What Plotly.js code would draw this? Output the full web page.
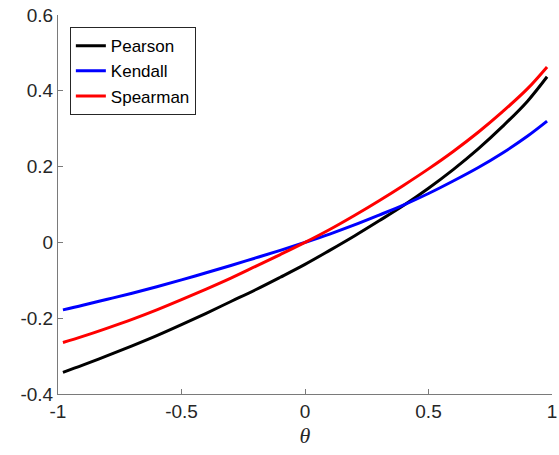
<!DOCTYPE html>
<html>
<head>
<meta charset="utf-8">
<script src="https://cdn.plot.ly/plotly-3.0.1.min.js"></script>
<style>html,body{margin:0;padding:0;background:#fff;}#chart{width:559px;height:455px;}</style>
</head>
<body>
<div id="chart"></div>
<script>
const theta = [-0.98,-0.9,-0.8,-0.7,-0.6,-0.5,-0.4,-0.3,-0.2,-0.1,0,0.1,0.2,0.3,0.4,0.5,0.6,0.7,0.8,0.9,0.98];
const pearson = [-0.343,-0.324,-0.299,-0.273,-0.246,-0.217,-0.187,-0.156,-0.125,-0.092,-0.058,-0.021,0.017,0.057,0.098,0.143,0.192,0.246,0.306,0.372,0.437];
const kendall = [-0.178,-0.166,-0.150,-0.134,-0.117,-0.099,-0.080,-0.061,-0.041,-0.021,0,0.022,0.046,0.072,0.099,0.129,0.162,0.197,0.236,0.280,0.320];
const spearman = [-0.264,-0.248,-0.226,-0.203,-0.178,-0.151,-0.123,-0.094,-0.063,-0.032,0,0.034,0.071,0.110,0.151,0.194,0.240,0.290,0.345,0.405,0.463];
const seriesNames = ['Pearson','Kendall','Spearman'];
const xTickVals = [-1,-0.5,0,0.5,1];
const xTickText = ['-1','-0.5','0','0.5','1'];
const yTickVals = [-0.4,-0.2,0,0.2,0.4,0.6];
const yTickText = ['-0.4','-0.2','0','0.2','0.4','0.6'];

const font = 'Liberation Sans, Arial, sans-serif';
const traces = [
  {x: theta, y: pearson, name: seriesNames[0], mode: 'lines', line: {color: '#000000', width: 3, shape: 'spline', smoothing: 1}},
  {x: theta, y: kendall, name: seriesNames[1], mode: 'lines', line: {color: '#0000ff', width: 3, shape: 'spline', smoothing: 1}},
  {x: theta, y: spearman, name: seriesNames[2], mode: 'lines', line: {color: '#ff0000', width: 3, shape: 'spline', smoothing: 1}}
];
const axisCommon = {
  showgrid: false, zeroline: false, showline: true, linecolor: '#7a7a7a', linewidth: 1,
  ticks: 'inside', ticklen: 5, tickcolor: '#7a7a7a', tickwidth: 1,
  tickfont: {family: font, size: 19, color: '#262626'}, mirror: false
};
const layout = {
  width: 559, height: 455,
  margin: {l: 58, r: 7, t: 15, b: 61},
  paper_bgcolor: '#ffffff', plot_bgcolor: '#ffffff',
  showlegend: true,
  legend: {x: 0.024, y: 0.968, xanchor: 'left', yanchor: 'top', bgcolor: '#ffffff',
           bordercolor: '#262626', borderwidth: 1, font: {family: font, size: 17, color: '#000000'},
           tracegroupgap: 0},
  xaxis: Object.assign({}, axisCommon, {range: [-1, 1], tickmode: 'array', tickvals: xTickVals, ticktext: xTickText,
    title: {text: 'θ', font: {family: 'Liberation Serif, DejaVu Serif, serif', size: 22, color: '#262626', style: 'italic'}, standoff: 6}}),
  yaxis: Object.assign({}, axisCommon, {range: [-0.4, 0.6], tickmode: 'array', tickvals: yTickVals, ticktext: yTickText})
};
Plotly.newPlot('chart', traces, layout, {displayModeBar: false, staticPlot: true});
</script>
</body>
</html>
